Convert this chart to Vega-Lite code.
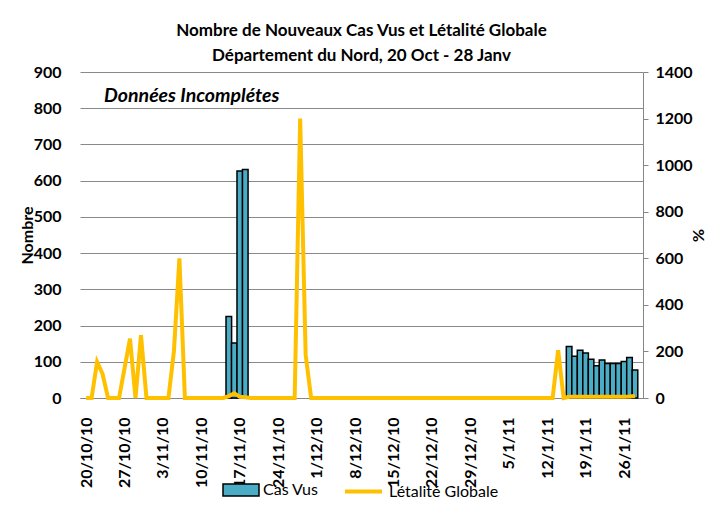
{
  "$schema": "https://vega.github.io/schema/vega-lite/v6.json",
  "width": 563,
  "height": 326,
  "autosize": {"type": "none"},
  "padding": {"left": 80, "top": 72, "right": 74, "bottom": 121},
  "background": "white",
  "title": {
    "text": ["Nombre de Nouveaux Cas Vus et Létalité Globale", "Département du Nord, 20 Oct - 28 Janv"],
    "font": "Lato", "fontSize": 17, "fontWeight": "bold", "color": "black",
    "lineHeight": 25, "anchor": "middle", "offset": -1
  },
  "data": {"values": [
    {"date": "2010-10-20", "cas": null, "letalite": 0},
    {"date": "2010-10-21", "cas": null, "letalite": 0},
    {"date": "2010-10-22", "cas": null, "letalite": 155},
    {"date": "2010-10-23", "cas": null, "letalite": 103},
    {"date": "2010-10-24", "cas": null, "letalite": 0},
    {"date": "2010-10-25", "cas": null, "letalite": 0},
    {"date": "2010-10-26", "cas": null, "letalite": 0},
    {"date": "2010-10-27", "cas": null, "letalite": 127},
    {"date": "2010-10-28", "cas": null, "letalite": 255},
    {"date": "2010-10-29", "cas": null, "letalite": 0},
    {"date": "2010-10-30", "cas": null, "letalite": 270},
    {"date": "2010-10-31", "cas": null, "letalite": 0},
    {"date": "2010-11-01", "cas": null, "letalite": 0},
    {"date": "2010-11-02", "cas": null, "letalite": 0},
    {"date": "2010-11-03", "cas": null, "letalite": 0},
    {"date": "2010-11-04", "cas": null, "letalite": 0},
    {"date": "2010-11-05", "cas": null, "letalite": 200},
    {"date": "2010-11-06", "cas": null, "letalite": 600},
    {"date": "2010-11-07", "cas": null, "letalite": 0},
    {"date": "2010-11-08", "cas": null, "letalite": 0},
    {"date": "2010-11-09", "cas": null, "letalite": 0},
    {"date": "2010-11-10", "cas": null, "letalite": 0},
    {"date": "2010-11-11", "cas": null, "letalite": 0},
    {"date": "2010-11-12", "cas": null, "letalite": 0},
    {"date": "2010-11-13", "cas": null, "letalite": 0},
    {"date": "2010-11-14", "cas": null, "letalite": 0},
    {"date": "2010-11-15", "cas": 225, "letalite": 8},
    {"date": "2010-11-16", "cas": 152, "letalite": 20},
    {"date": "2010-11-17", "cas": 627, "letalite": 5},
    {"date": "2010-11-18", "cas": 631, "letalite": 3},
    {"date": "2010-11-19", "cas": null, "letalite": 0},
    {"date": "2010-11-20", "cas": null, "letalite": 0},
    {"date": "2010-11-21", "cas": null, "letalite": 0},
    {"date": "2010-11-22", "cas": null, "letalite": 0},
    {"date": "2010-11-23", "cas": null, "letalite": 0},
    {"date": "2010-11-24", "cas": null, "letalite": 0},
    {"date": "2010-11-25", "cas": null, "letalite": 0},
    {"date": "2010-11-26", "cas": null, "letalite": 0},
    {"date": "2010-11-27", "cas": null, "letalite": 0},
    {"date": "2010-11-28", "cas": null, "letalite": 1200},
    {"date": "2010-11-29", "cas": null, "letalite": 185},
    {"date": "2010-11-30", "cas": null, "letalite": 0},
    {"date": "2010-12-01", "cas": null, "letalite": 0},
    {"date": "2010-12-02", "cas": null, "letalite": 0},
    {"date": "2010-12-03", "cas": null, "letalite": 0},
    {"date": "2010-12-04", "cas": null, "letalite": 0},
    {"date": "2010-12-05", "cas": null, "letalite": 0},
    {"date": "2010-12-06", "cas": null, "letalite": 0},
    {"date": "2010-12-07", "cas": null, "letalite": 0},
    {"date": "2010-12-08", "cas": null, "letalite": 0},
    {"date": "2010-12-09", "cas": null, "letalite": 0},
    {"date": "2010-12-10", "cas": null, "letalite": 0},
    {"date": "2010-12-11", "cas": null, "letalite": 0},
    {"date": "2010-12-12", "cas": null, "letalite": 0},
    {"date": "2010-12-13", "cas": null, "letalite": 0},
    {"date": "2010-12-14", "cas": null, "letalite": 0},
    {"date": "2010-12-15", "cas": null, "letalite": 0},
    {"date": "2010-12-16", "cas": null, "letalite": 0},
    {"date": "2010-12-17", "cas": null, "letalite": 0},
    {"date": "2010-12-18", "cas": null, "letalite": 0},
    {"date": "2010-12-19", "cas": null, "letalite": 0},
    {"date": "2010-12-20", "cas": null, "letalite": 0},
    {"date": "2010-12-21", "cas": null, "letalite": 0},
    {"date": "2010-12-22", "cas": null, "letalite": 0},
    {"date": "2010-12-23", "cas": null, "letalite": 0},
    {"date": "2010-12-24", "cas": null, "letalite": 0},
    {"date": "2010-12-25", "cas": null, "letalite": 0},
    {"date": "2010-12-26", "cas": null, "letalite": 0},
    {"date": "2010-12-27", "cas": null, "letalite": 0},
    {"date": "2010-12-28", "cas": null, "letalite": 0},
    {"date": "2010-12-29", "cas": null, "letalite": 0},
    {"date": "2010-12-30", "cas": null, "letalite": 0},
    {"date": "2010-12-31", "cas": null, "letalite": 0},
    {"date": "2011-01-01", "cas": null, "letalite": 0},
    {"date": "2011-01-02", "cas": null, "letalite": 0},
    {"date": "2011-01-03", "cas": null, "letalite": 0},
    {"date": "2011-01-04", "cas": null, "letalite": 0},
    {"date": "2011-01-05", "cas": null, "letalite": 0},
    {"date": "2011-01-06", "cas": null, "letalite": 0},
    {"date": "2011-01-07", "cas": null, "letalite": 0},
    {"date": "2011-01-08", "cas": null, "letalite": 0},
    {"date": "2011-01-09", "cas": null, "letalite": 0},
    {"date": "2011-01-10", "cas": null, "letalite": 0},
    {"date": "2011-01-11", "cas": null, "letalite": 0},
    {"date": "2011-01-12", "cas": null, "letalite": 0},
    {"date": "2011-01-13", "cas": null, "letalite": 0},
    {"date": "2011-01-14", "cas": null, "letalite": 205},
    {"date": "2011-01-15", "cas": null, "letalite": 0},
    {"date": "2011-01-16", "cas": 142, "letalite": 5},
    {"date": "2011-01-17", "cas": 115, "letalite": 5},
    {"date": "2011-01-18", "cas": 132, "letalite": 5},
    {"date": "2011-01-19", "cas": 124, "letalite": 5},
    {"date": "2011-01-20", "cas": 107, "letalite": 5},
    {"date": "2011-01-21", "cas": 89, "letalite": 5},
    {"date": "2011-01-22", "cas": 105, "letalite": 5},
    {"date": "2011-01-23", "cas": 95, "letalite": 5},
    {"date": "2011-01-24", "cas": 95, "letalite": 5},
    {"date": "2011-01-25", "cas": 95, "letalite": 5},
    {"date": "2011-01-26", "cas": 101, "letalite": 5},
    {"date": "2011-01-27", "cas": 112, "letalite": 6},
    {"date": "2011-01-28", "cas": 77, "letalite": 9}
  ]},
  "encoding": {
    "x": {
      "field": "date", "type": "temporal",
      "scale": {"type": "utc", "domain": [1287515520000, 1296220320000]},
      "axis": {
        "title": null,
        "values": [1287532800000, 1288137600000, 1288742400000, 1289347200000, 1289952000000, 1290556800000, 1291161600000, 1291766400000, 1292371200000, 1292976000000, 1293580800000, 1294185600000, 1294790400000, 1295395200000, 1296000000000],
        "labelExpr": "utcFormat(datum.value, '%-d/%-m/%y')",
        "labelAngle": 270, "labelAlign": "right", "labelBaseline": "middle",
        "labelPadding": 19, "ticks": false, "grid": false,
        "domain": true, "domainColor": "#868686", "domainWidth": 1,
        "labelFont": "Lato", "labelFontSize": 16, "labelFontWeight": "bold", "labelColor": "black",
        "labelOverlap": false, "labelFlush": false
      }
    }
  },
  "layer": [
    {
      "layer": [
        {
          "transform": [{"filter": {"field": "cas", "valid": true}}],
          "mark": {"type": "bar", "width": 5.59, "stroke": "black", "strokeWidth": 1.5},
          "encoding": {
            "y": {
              "field": "cas", "type": "quantitative",
              "scale": {"domain": [0, 900], "nice": false},
              "axis": {
                "title": "Nombre", "values": [0, 100, 200, 300, 400, 500, 600, 700, 800, 900],
                "grid": true, "gridColor": "#898989", "gridWidth": 1,
                "domain": false, "ticks": false, "labelPadding": 19,
                "labelFont": "Lato", "labelFontSize": 16, "labelFontWeight": "bold", "labelColor": "black",
                "titleFont": "Lato", "titleFontSize": 16, "titleFontWeight": "bold", "titleColor": "black",
                "titleAngle": 270, "titleX": -53, "titleY": 163, "titleAlign": "center", "titleBaseline": "middle"
              }
            },
            "fill": {
              "datum": "Cas Vus", "type": "nominal",
              "scale": {"range": ["#4BACC6"]},
              "legend": {
                "orient": "none", "legendX": 142, "legendY": 399, "title": null, "padding": 0,
                "symbolType": "M-1,-0.33H1V0.33H-1Z", "symbolSize": 1296,
                "symbolStrokeColor": "black", "symbolStrokeWidth": 1.5, "symbolOpacity": 1,
                "labelFont": "Lato", "labelFontSize": 16, "labelColor": "black", "labelOffset": 3
              }
            }
          }
        },
        {
          "transform": [{"filter": "time(datum.date) == 1287878400000"}],
          "mark": {"type": "text", "font": "Lato", "fontSize": 19.5, "fontWeight": "bold", "fontStyle": "italic", "align": "left", "baseline": "middle", "color": "black", "dx": -4},
          "encoding": {
            "y": {
              "datum": 835, "type": "quantitative",
              "axis": {
                "title": "Nombre", "values": [0, 100, 200, 300, 400, 500, 600, 700, 800, 900],
                "grid": true, "gridColor": "#898989", "gridWidth": 1,
                "domain": false, "ticks": false, "labelPadding": 19,
                "labelFont": "Lato", "labelFontSize": 16, "labelFontWeight": "bold", "labelColor": "black",
                "titleFont": "Lato", "titleFontSize": 16, "titleFontWeight": "bold", "titleColor": "black",
                "titleAngle": 270, "titleX": -53, "titleY": 163, "titleAlign": "center", "titleBaseline": "middle"
              }
            },
            "text": {"value": "Données Incomplétes"}
          }
        }
      ]
    },
    {
      "mark": {"type": "line", "strokeWidth": 4, "strokeJoin": "miter"},
      "encoding": {
        "y": {
          "field": "letalite", "type": "quantitative",
          "scale": {"domain": [0, 1400], "nice": false},
          "axis": {
            "orient": "right", "title": "%", "values": [0, 200, 400, 600, 800, 1000, 1200, 1400], "format": "d",
            "grid": false, "domain": true, "domainColor": "#868686", "domainWidth": 1,
            "ticks": true, "tickColor": "#868686", "tickSize": 5, "labelPadding": 7,
            "labelFont": "Lato", "labelFontSize": 16, "labelFontWeight": "bold", "labelColor": "black",
            "titleFont": "Lato", "titleFontSize": 16, "titleFontWeight": "bold", "titleColor": "black",
            "titleAngle": 90, "titleX": 54, "titleY": 163, "titleAlign": "center", "titleBaseline": "middle"
          }
        },
        "stroke": {
          "datum": "Létalité Globale", "type": "nominal",
          "scale": {"range": ["#FFC000"]},
          "legend": {
            "orient": "none", "legendX": 263, "legendY": 399, "title": null, "padding": 0,
            "symbolType": "stroke", "symbolSize": 1369, "symbolStrokeWidth": 4,
            "labelFont": "Lato", "labelFontSize": 16, "labelColor": "black", "labelOffset": 5
          }
        }
      }
    }
  ],
  "resolve": {"scale": {"y": "independent"}},
  "config": {"view": {"stroke": null}, "font": "Lato"}
}
